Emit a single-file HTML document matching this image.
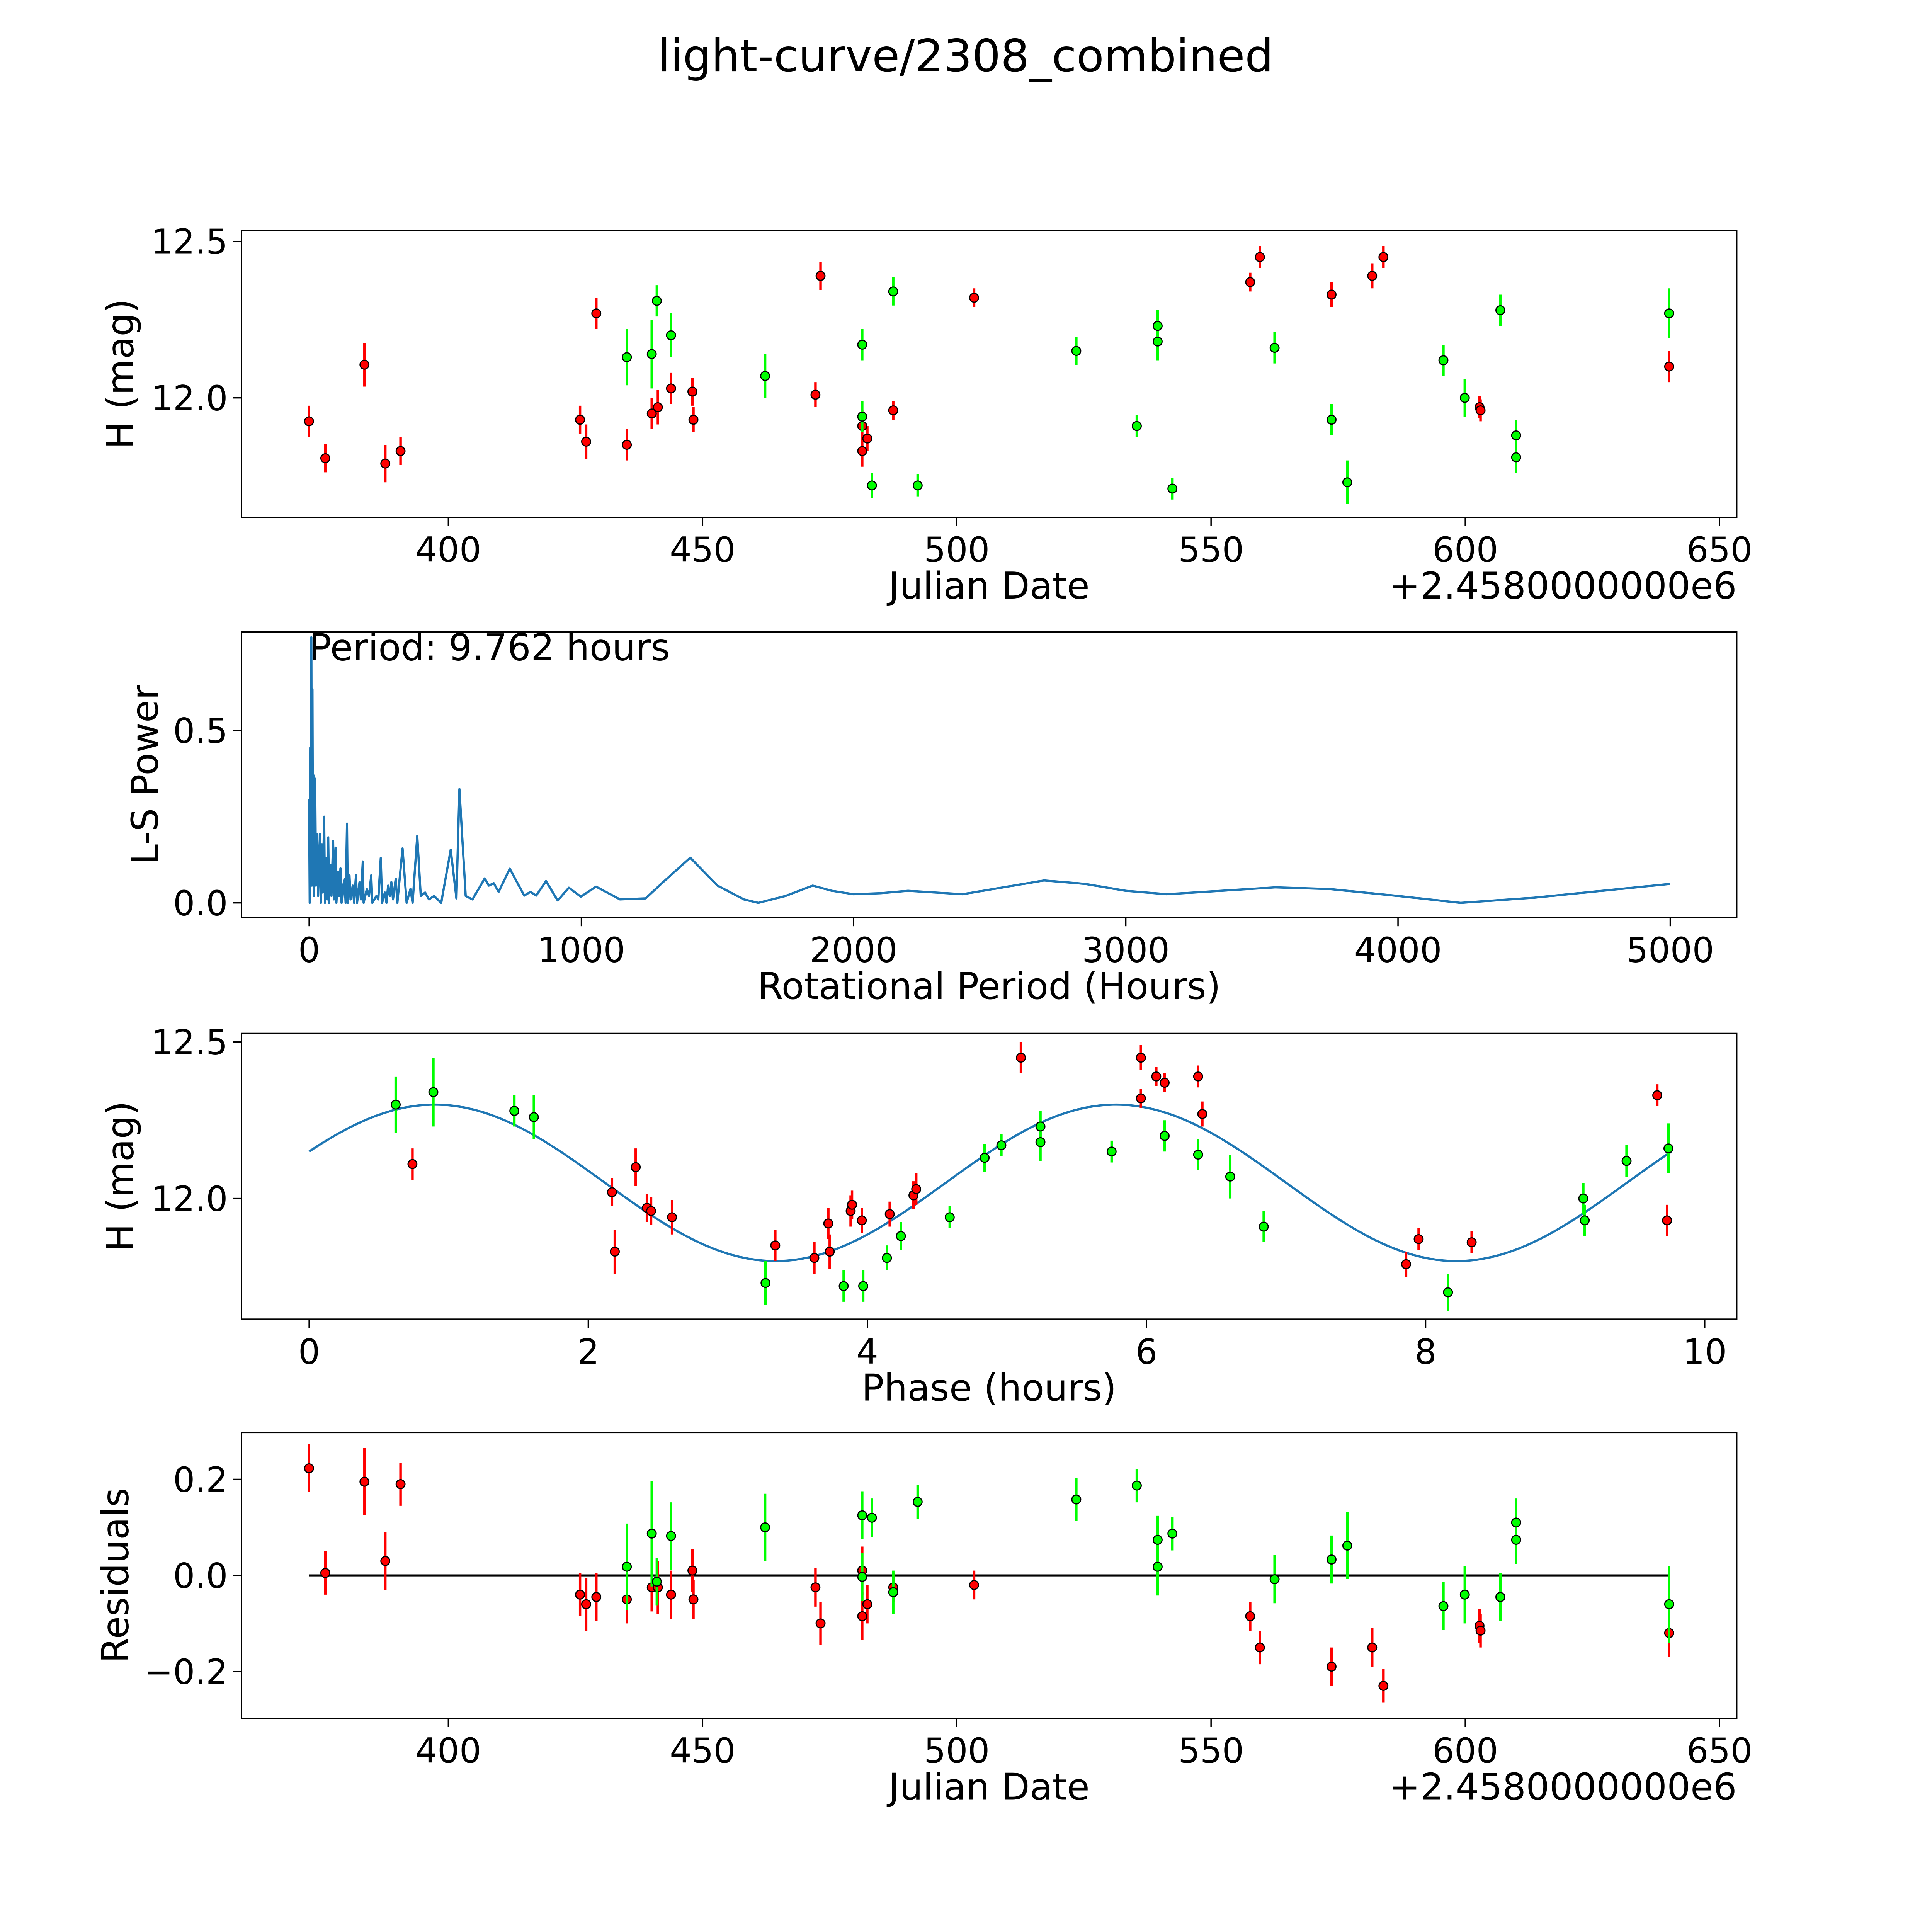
<!DOCTYPE html>
<html><head><meta charset="utf-8"><style>
html,body{margin:0;padding:0;background:#fff;overflow:hidden}
svg{display:block}
text{font-family:"DejaVu Sans","Liberation Sans",sans-serif;fill:#000}
</style></head><body>
<svg id="fig" xmlns="http://www.w3.org/2000/svg" width="5400" height="5400" viewBox="0 0 1694 1694">
<rect width="1694" height="1694" fill="#fff"/>
<text x="784" y="58" font-size="36.5" text-anchor="middle">light-curve/2308_combined</text>
</svg>
<script>
// ---- Panel 1: light curve data ----
const redDates=[372.6,375.8,383.5,387.6,390.6,425.9,427.1,429.1,435.1,440.0,441.2,443.8,448.0,448.2,472.2,473.2,481.4,481.4,482.4,487.5,503.4,557.7,559.6,573.7,581.7,583.9,602.8,603.0,640.1];
const redMags=[11.925,11.807,12.106,11.79,11.83,11.93,11.86,12.27,11.85,11.95,11.97,12.03,12.02,11.93,12.01,12.39,11.91,11.83,11.87,11.96,12.32,12.37,12.45,12.33,12.39,12.45,11.97,11.96,12.10];
const redErr=[0.05,0.045,0.07,0.06,0.045,0.045,0.055,0.05,0.05,0.05,0.055,0.05,0.045,0.04,0.04,0.045,0.05,0.05,0.04,0.03,0.03,0.03,0.035,0.04,0.04,0.035,0.035,0.035,0.05];
const greenDates=[435.1,440.0,441.0,443.8,462.3,481.4,481.4,483.3,487.5,492.3,523.5,535.4,539.5,539.5,542.4,562.5,573.7,576.8,595.7,599.9,606.9,610.0,610.0,640.1];
const greenMags=[12.13,12.14,12.31,12.20,12.07,12.17,11.94,11.72,12.34,11.72,12.15,11.91,12.23,12.18,11.71,12.16,11.93,11.73,12.12,12.00,12.28,11.88,11.81,12.27];
const greenErr=[0.09,0.11,0.05,0.07,0.07,0.05,0.05,0.04,0.045,0.035,0.045,0.035,0.05,0.06,0.035,0.05,0.05,0.07,0.05,0.06,0.05,0.05,0.05,0.08];
// ---- Panel 2: periodogram ----
const lsPeriods=[0,2,4,6,8,10,12,14,16,18,22,25,30,33,40,43,47,50,55,58,63,66,70,73,78,82,88,91,97,100,106,110,115,119,125,130,134,139,142,148,152,160,165,172,176,185,190,197,200,212,220,228,232,247,254,263,268,278,284,290,296,302,308,318,324,343,358,372,380,397,410,426,440,459,485,520,541,552,575,600,645,660,678,696,737,790,813,834,870,913,954,998,1054,1142,1236,1300,1400,1500,1597,1650,1750,1850,1920,2000,2100,2200,2300,2400,2550,2700,2850,3000,3150,3350,3550,3750,4000,4230,4500,4750,5000];
const lsPowers=[0.3,0,0.45,0.1,0.77,0.05,0.62,0.08,0.37,0.02,0.36,0.05,0.2,0.02,0.2,0,0.17,0.03,0.25,0,0.13,0.01,0.19,0,0.11,0.02,0.18,0.01,0.16,0,0.09,0.02,0.1,0,0.05,0.07,0,0.23,0,0.08,0.01,0.05,0,0.08,0,0.06,0.01,0.12,0,0.04,0.02,0.08,0,0.02,0.01,0.13,0,0.03,0,0.05,0.02,0.06,0.01,0.07,0,0.158,0,0.04,0,0.194,0.02,0.03,0.01,0.02,0,0.154,0.013,0.33,0.02,0.01,0.071,0.05,0.057,0.032,0.099,0.021,0.032,0.021,0.063,0.007,0.044,0.018,0.047,0.01,0.013,0.06,0.131,0.05,0.01,0.0,0.02,0.05,0.035,0.025,0.028,0.035,0.03,0.025,0.045,0.065,0.055,0.035,0.025,0.035,0.045,0.04,0.02,0.0,0.015,0.035,0.055];
const bestPeriodLabel="Period: 9.762 hours";
// ---- Panel 3: phased ----
const redPhase=[0.74,2.17,2.19,2.34,2.42,2.45,2.60,3.34,3.62,3.72,3.73,3.88,3.89,3.96,4.16,4.33,4.35,5.10,5.96,5.96,6.07,6.13,6.37,6.40,7.86,7.95,8.33,9.66,9.73];
const redPhaseMag=[12.11,12.02,11.83,12.10,11.97,11.96,11.94,11.85,11.81,11.92,11.83,11.96,11.98,11.93,11.95,12.01,12.03,12.45,12.45,12.32,12.39,12.37,12.39,12.27,11.79,11.87,11.86,12.33,11.93];
const greenPhase=[0.62,0.89,1.47,1.61,3.27,3.83,3.97,4.14,4.24,4.59,4.84,4.96,5.24,5.24,5.75,6.13,6.37,6.60,6.84,8.16,9.13,9.14,9.44,9.74];
const greenPhaseMag=[12.30,12.34,12.28,12.26,11.73,11.72,11.72,11.81,11.88,11.94,12.13,12.17,12.23,12.18,12.15,12.20,12.14,12.07,11.91,11.70,12.00,11.93,12.12,12.16];
const modelParams=[12.05,0.25,0.9,4.881,9.762]; // mean, amplitude, peak phase, half period, period
// ---- Panel 4: residuals ----
const redResid=[0.223,0.005,0.195,0.03,0.19,-0.04,-0.06,-0.045,-0.05,-0.025,-0.025,-0.04,0.01,-0.05,-0.025,-0.10,0.01,-0.085,-0.06,-0.025,-0.02,-0.085,-0.15,-0.19,-0.15,-0.23,-0.105,-0.115,-0.12];
const greenResid=[0.018,0.087,-0.013,0.082,0.10,0.125,-0.003,0.12,-0.035,0.153,0.158,0.187,0.074,0.018,0.087,-0.008,0.033,0.062,-0.064,-0.04,-0.045,0.11,0.074,-0.06];
// ---- ticks ----
const dateTicks=[400,450,500,550,600,650];
const magTicks=[12.0,12.5];
const periodTicks=[0,1000,2000,3000,4000,5000];
const powerTicks=[0.0,0.5];
const phaseTicks=[0,2,4,6,8,10];
const residTicks=[-0.2,0.0,0.2];

const NS="http://www.w3.org/2000/svg";
const svg=document.getElementById('fig');
function mk(tag,attrs,parent){const e=document.createElementNS(NS,tag);for(const k in attrs)e.setAttribute(k,attrs[k]);(parent||svg).appendChild(e);return e;}

const xDate=d=>364+(d-400)*4.128;
const yMag1=m=>323-(m-12)*254;
const xPer=p=>251+p*0.221;
const yPow=v=>733-v*280;
const xPh=f=>251+f*113.3;
const yMag3=m=>973-(m-12)*254;
const yRes=r=>1279-r*390;

const TICK=28, LAB=30;
function panel(name,top,bottom,xt,xf,xfmt,yt,yf,yfmt,xlabel,ylabel,ylx,offset){
  const g=mk('g',{});
  
  
  const fr=mk('rect',{x:196,y:top,width:1214,height:bottom-top,fill:'none',stroke:'#000','stroke-width':1.1},g);
  
  
  xt.forEach(v=>{const x=xf(v);
    mk('line',{x1:x,x2:x,y1:bottom,y2:bottom+7,stroke:'#000','stroke-width':1.1},g);
    const t=mk('text',{x:x,y:bottom+36,'font-size':TICK,'text-anchor':'middle'},g);t.textContent=xfmt(v);
    
    });
  yt.forEach(v=>{const y=yf(v);
    mk('line',{x1:196,x2:189,y1:y,y2:y,stroke:'#000','stroke-width':1.1},g);
    const t=mk('text',{x:185,y:y+10,'font-size':TICK,'text-anchor':'end'},g);t.textContent=yfmt(v);
    
    });
  const xl=mk('text',{x:803,y:bottom+66,'font-size':LAB,'text-anchor':'middle'},g);xl.textContent=xlabel;
  
  
  const cy=(top+bottom)/2;
  const yl=mk('text',{x:ylx,y:cy,'font-size':LAB,'text-anchor':'middle',transform:`rotate(-90 ${ylx} ${cy})`},g);yl.textContent=ylabel;
  
  
  if(offset){const o=mk('text',{x:1410,y:bottom+66,'font-size':LAB,'text-anchor':'end'},g);o.textContent='+2.4580000000e6';
    
    }
  return g;
}
const f1=v=>v.toFixed(1).replace('-','\u2212');
panel('light-curve-panel',187,420,dateTicks,xDate,v=>String(v),magTicks,yMag1,f1,'Julian Date','H (mag)',108,true);
panel('periodogram-panel',513,745,periodTicks,xPer,v=>String(v),powerTicks,yPow,f1,'Rotational Period (Hours)','L-S Power',128,false);
panel('phase-panel',839,1071,phaseTicks,xPh,v=>String(v),magTicks,yMag3,f1,'Phase (hours)','H (mag)',108,false);
panel('residuals-panel',1163,1395,dateTicks,xDate,v=>String(v),residTicks,yRes,f1,'Julian Date','Residuals',104,true);

function points(xs,ys,errs,xf,yf,scale,color,name){
  const g=mk('g',{});
  
  
  xs.forEach((xv,i)=>{const x=xf(xv),y=yf(ys[i]),e=errs[i]*scale;
    mk('line',{x1:x,x2:x,y1:y-e,y2:y+e,stroke:color,'stroke-width':2},g);});
  xs.forEach((xv,i)=>{const c=mk('circle',{cx:xf(xv),cy:yf(ys[i]),r:3.6,fill:color,stroke:'#000','stroke-width':0.9},g);
    
    });
}
// panel 1
points(redDates,redMags,redErr,xDate,yMag1,254,'#ff0000','red-observations');
points(greenDates,greenMags,greenErr,xDate,yMag1,254,'#00ff00','green-observations');
// panel 2
{let d='';lsPeriods.forEach((p,i)=>{d+=(i?'L':'M')+xPer(p).toFixed(2)+' '+yPow(lsPowers[i]).toFixed(2);});
 const pl=mk('path',{d:d,fill:'none',stroke:'#1f77b4','stroke-width':1.8,'stroke-linejoin':'round'});
 
 
 const t=mk('text',{x:251,y:536,'font-size':LAB});t.textContent=bestPeriodLabel;
 
 }
// panel 3 model
{const [mu,amp,pk,hp,per]=modelParams;let d='';
 for(let i=0;i<=400;i++){const f=per*i/400;const m=mu+amp*Math.cos(2*Math.PI*(f-pk)/hp);d+=(i?'L':'M')+xPh(f).toFixed(2)+' '+yMag3(m).toFixed(2);}
 const ml=mk('path',{d:d,fill:'none',stroke:'#1f77b4','stroke-width':1.8});
 
 }
points(redPhase,redPhaseMag,redErr,xPh,yMag3,254,'#ff0000','red-phased');
points(greenPhase,greenPhaseMag,greenErr,xPh,yMag3,254,'#00ff00','green-phased');
// panel 4
{const zl=mk('line',{x1:xDate(Math.min(...redDates)),x2:xDate(Math.max(...redDates)),y1:yRes(0),y2:yRes(0),stroke:'#000','stroke-width':1.6});
 
 }
points(redDates,redResid,redErr,xDate,yRes,390,'#ff0000','red-residuals');
points(greenDates,greenResid,greenErr,xDate,yRes,390,'#00ff00','green-residuals');
</script>
</body></html>
